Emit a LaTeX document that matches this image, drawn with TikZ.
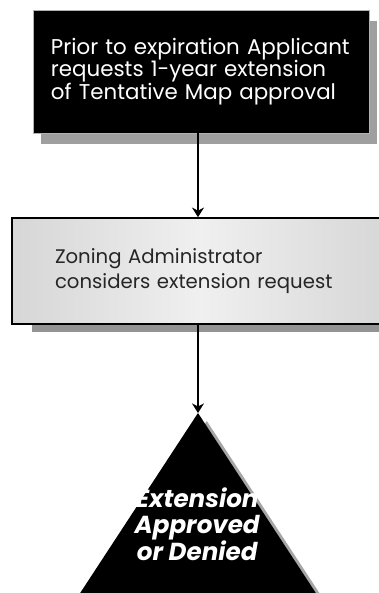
\documentclass[tikz,border=0pt]{standalone}
\usepackage{fontspec}
\setmainfont{Poppins}
\usetikzlibrary{arrows.meta,shadows}

\begin{document}
\begin{tikzpicture}[every path/.style={>={Stealth[length=2.4mm,width=3mm]}},
  darkbox/.style={draw=gray!60,line width=0.7pt,fill=black,text=white,align=left,
    text width=7.5cm,inner xsep=0.45cm,minimum height=3.075cm,
    general shadow={fill=gray!75,shadow xshift=0.2cm,shadow yshift=-0.28cm},
    font=\fontsize{15.2}{15.8}\selectfont},
  lightbox/.style={draw=black,line width=1.2pt,left color=gray!32,right color=gray!32,
    middle color=gray!12,text=black!85,align=left,
    text width=7.3cm,inner xsep=1.075cm,minimum height=2.65cm,
    general shadow={fill=gray!85,shadow xshift=0.5cm,shadow yshift=-0.2cm},
    font=\fontsize{14}{17.2}\selectfont},
  outcome/.style={text=white,align=center,inner sep=0pt,
    font=\bfseries\itshape\fontsize{17.5}{19}\selectfont}]
\useasboundingbox (0,0) rectangle (9.475,14.825);
\clip (0,0) rectangle (9.475,14.825);
\node[darkbox]  (request) at (5.025,13.0375) {Prior to expiration Applicant\\requests 1-year extension\\of Tentative Map approval};
\node[lightbox] (review)  at (5.025,8.05)    {Zoning Administrator\\considers extension request};
\coordinate     (apex)    at (4.95,4.5);
% decision triangle, runs off the bottom edge
\fill[gray!70] ([shift={(0.22,-0.2)}]apex) -- +(3.6,-5.5) -- +(-3.6,-5.5) -- cycle;
\fill[black]   (apex) -- +(3.6,-5.5) -- +(-3.6,-5.5) -- cycle;
\node[outcome]  (decision) at (4.93,1.72) {Extension\\Approved\\or Denied};
\draw[->,line width=1pt] (request.south -| apex) -- (review.north -| apex);
\draw[->,line width=1pt] (review.south -| apex) -- (apex);
\end{tikzpicture}
\end{document}
